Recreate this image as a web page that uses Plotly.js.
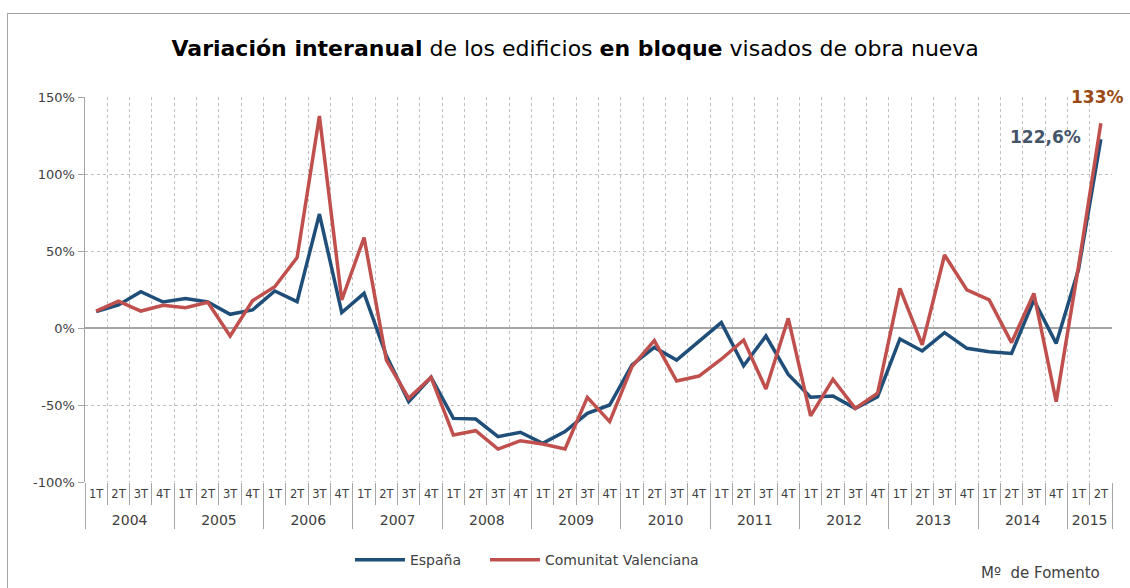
<!DOCTYPE html>
<html>
<head>
<meta charset="utf-8">
<script src="https://cdn.plot.ly/plotly-3.0.1.min.js"></script>
<style>
  html, body { margin: 0; padding: 0; background: #fff; }
  #wrap { position: relative; width: 1130px; height: 588px; overflow: hidden; }
  #chart { position: absolute; left: 0; top: 0; width: 1130px; height: 588px; }
  #frame { position: absolute; left: 7px; top: 13px; width: 1200px; height: 700px;
           border-top: 1.5px solid #a6a6a6; border-left: 1.5px solid #a6a6a6; pointer-events: none; }
</style>
</head>
<body>
<div id="wrap"><div id="chart"></div><div id="frame"></div></div>
<script>
const years = ["2004","2005","2006","2007","2008","2009","2010","2011","2012","2013","2014","2015"];
const quarters = ["1T","2T","3T","4T"];
const quartersLast = ["1T","2T"];

const espana = [10.6, 15, 23.6, 16.9, 19.2, 16.9, 8.9, 11.7, 24, 17.1, 74, 10, 22.5, -18, -47.8, -32,
  -58.7, -59.1, -70.6, -67.7, -74.9, -67.3, -55.4, -50, -24, -12.6, -20.8, -8.4, 3.5, -24.5, -5.2, -30.1,
  -45, -44.2, -52.2, -44.6, -7.1, -14.9, -3, -13.2, -15.4, -16.5, 18.2, -10, 38, 122.6];
const valenciana = [11, 17.5, 11, 14.7, 13.2, 16.7, -5.2, 17.7, 26.8, 45.7, 137.7, 18.2, 58.7, -20.8, -45.7, -32,
  -69.5, -66.7, -78.6, -73.2, -75.3, -78.6, -45, -60.8, -25.1, -8.2, -34.4, -31.2, -20.3, -7.8, -39.6, 6.3,
  -57.1, -33.3, -52.2, -42.4, 25.8, -11, 47.4, 24.7, 18.2, -9.5, 22.5, -47.8, 40, 133];

const seriesNames = ["España", "Comunitat Valenciana"];
const lastLabels = ["122,6%", "133%"];
const yTickVals = [-100, -50, 0, 50, 100, 150];
const yTickText = ["-100%", "-50%", "0%", "50%", "100%", "150%"];

// build multicategory x (year labels drawn one line lower and larger, as in the reference)
const yearLabel = y => "<br><span style='font-size:14px'>" + y + "</span>";
const xYears = [], xQuarters = [];
years.forEach((y, i) => {
  const qs = (i === years.length - 1) ? quartersLast : quarters;
  qs.forEach(q => { xYears.push(yearLabel(y)); xQuarters.push(q); });
});

const FONT = "'DejaVu Sans', sans-serif";

const traces = [
  { x: [xYears, xQuarters], y: espana, name: seriesNames[0], type: "scatter", mode: "lines",
    line: { color: "#1f4e79", width: 3.5 }, legend: "legend" },
  { x: [xYears, xQuarters], y: valenciana, name: seriesNames[1], type: "scatter", mode: "lines",
    line: { color: "#c0504d", width: 3.5 }, legend: "legend2" }
];

const nLast = espana.length - 1;

const legendBase = {
  orientation: "h", xanchor: "left", y: -0.203, yanchor: "middle", itemwidth: 50,
  font: { family: FONT, size: 14, color: "#404040" }, bgcolor: "rgba(0,0,0,0)"
};

const layout = {
  width: 1130, height: 588,
  margin: { l: 85, r: 18, t: 97, b: 106 },
  paper_bgcolor: "#ffffff", plot_bgcolor: "#ffffff",
  font: { family: FONT, color: "#404040", size: 13 },
  title: {
    text: "<b>Variación interanual</b> de los edificios <b>en bloque</b> visados de obra nueva",
    font: { family: FONT, size: 22, color: "#000000" },
    x: 0.509, xanchor: "center", y: 0.918, yanchor: "middle"
  },
  xaxis: {
    type: "multicategory",
    range: [-0.5, nLast + 0.5],
    tickson: "boundaries",
    ticks: "outside", ticklen: 22, tickcolor: "#a6a6a6", tickwidth: 1,
    tickangle: 0,
    ticklabelstandoff: 3,
    showgrid: true, gridcolor: "#bfbfbf", griddash: "dot", gridwidth: 1,
    showdividers: true, dividercolor: "#a6a6a6", dividerwidth: 1,
    showline: false,
    tickfont: { family: FONT, size: 11.5, color: "#404040" },
    zeroline: false
  },
  yaxis: {
    range: [-100, 150], tickvals: yTickVals, ticktext: yTickText,
    showgrid: true, gridcolor: "#bfbfbf", griddash: "dot", gridwidth: 1,
    zeroline: true, zerolinecolor: "#a6a6a6", zerolinewidth: 2,
    showline: true, linecolor: "#a6a6a6", linewidth: 1.5,
    ticks: "outside", ticklen: 6, tickcolor: "#a6a6a6",
    tickfont: { family: FONT, size: 13, color: "#404040" }
  },
  showlegend: true,
  legend: Object.assign({}, legendBase, { x: 0.258 }),
  legend2: Object.assign({}, legendBase, { x: 0.3895 }),
  annotations: [
    { x: nLast, y: espana[nLast], xref: "x", yref: "y", text: "<b>" + lastLabels[0] + "</b>",
      showarrow: false, xanchor: "right", yanchor: "middle", xshift: -18, yshift: 2,
      font: { family: FONT, size: 17, color: "#44546a" } },
    { x: nLast, y: valenciana[nLast], xref: "x", yref: "y", text: "<b>" + lastLabels[1] + "</b>",
      showarrow: false, xanchor: "right", yanchor: "middle", xshift: 25, yshift: 26,
      font: { family: FONT, size: 17, color: "#9a4a13" } },
    { x: 0.93, y: -0.236, xref: "paper", yref: "paper", text: "Mº  de Fomento",
      showarrow: false, xanchor: "center", yanchor: "middle",
      font: { family: FONT, size: 15, color: "#404040" } }
  ]
};

Plotly.newPlot("chart", traces, layout, { displayModeBar: false, staticPlot: true });
</script>
</body>
</html>
